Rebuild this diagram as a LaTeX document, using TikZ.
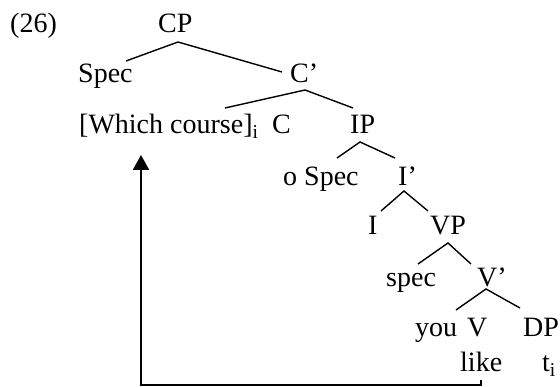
\documentclass[tikz,border=0pt]{standalone}
\usepackage{fontspec}
\setmainfont{Liberation Serif}
\usetikzlibrary{arrows.meta}
\begin{document}
\begin{tikzpicture}[x=1pt,y=-1pt,
  lbl/.style={anchor=base west, inner sep=0pt, font=\fontsize{28}{32}\selectfont},
  br/.style={line width=1.4pt},
  mv/.style={line width=2pt}]
\fill[white] (0,0) rectangle (560,387);
\useasboundingbox (0,0) rectangle (560,387);
% labels
\node[lbl] (ex) at (10,33) {(26)};
\node[lbl] (CP) at (158,33) {CP};
\node[lbl] (specA) at (78,83) {Spec};
\node[lbl] (Cbar) at (290,83) {C’};
\node[lbl] (which) at (79,134) {[Which course]\textsubscript{i}};
\node[lbl] (C) at (272,134) {C};
\node[lbl] (IP) at (350,134) {IP};
\node[lbl] (ospec) at (283,186) {o Spec};
\node[lbl] (Ibar) at (398,186) {I’};
\node[lbl] (I) at (368,235) {I};
\node[lbl] (VP) at (430,235) {VP};
\node[lbl] (specB) at (386,287) {spec};
\node[lbl] (Vbar) at (477,287) {V’};
\node[lbl] (you) at (415,337) {you};
\node[lbl] (V) at (467,337) {V};
\node[lbl] (DP) at (523,337) {DP};
\node[lbl] (like) at (460,372) {like};
\node[lbl] (t) at (542,372) {t\textsubscript{i}};
% branch points
\coordinate (CP-b) at (178,42);
\coordinate (specA-t) at (126,61);
\coordinate (Cbar-t) at (282,72);
\coordinate (Cbar-b) at (305,90);
\coordinate (C-t) at (225,108);
\coordinate (IP-t) at (353,108);
\coordinate (IP-b) at (360,142);
\coordinate (ospec-t) at (337,158);
\coordinate (Ibar-t) at (395,158);
\coordinate (Ibar-b) at (404,191);
\coordinate (I-t) at (381,211);
\coordinate (VP-t) at (428,211);
\coordinate (VP-b) at (448,243);
\coordinate (specB-t) at (418,264);
\coordinate (Vbar-t) at (471,264);
\coordinate (Vbar-b) at (486,289);
\coordinate (V-t) at (456,310);
\coordinate (DP-t) at (520,308);
\coordinate (trace) at (481,380);
\coordinate (target) at (141,155);
% branches
\draw[br] (specA-t) -- (CP-b) -- (Cbar-t);
\draw[br] (C-t) -- (Cbar-b) -- (IP-t);
\draw[br] (ospec-t) -- (IP-b) -- (Ibar-t);
\draw[br] (I-t) -- (Ibar-b) -- (VP-t);
\draw[br] (specB-t) -- (VP-b) -- (Vbar-t);
\draw[br] (V-t) -- (Vbar-b) -- (DP-t);
% movement arrow
\draw[mv,-{Triangle[width=16pt,length=15pt]}] (trace) -- ++(0,5) -| (target);
\end{tikzpicture}
\end{document}
